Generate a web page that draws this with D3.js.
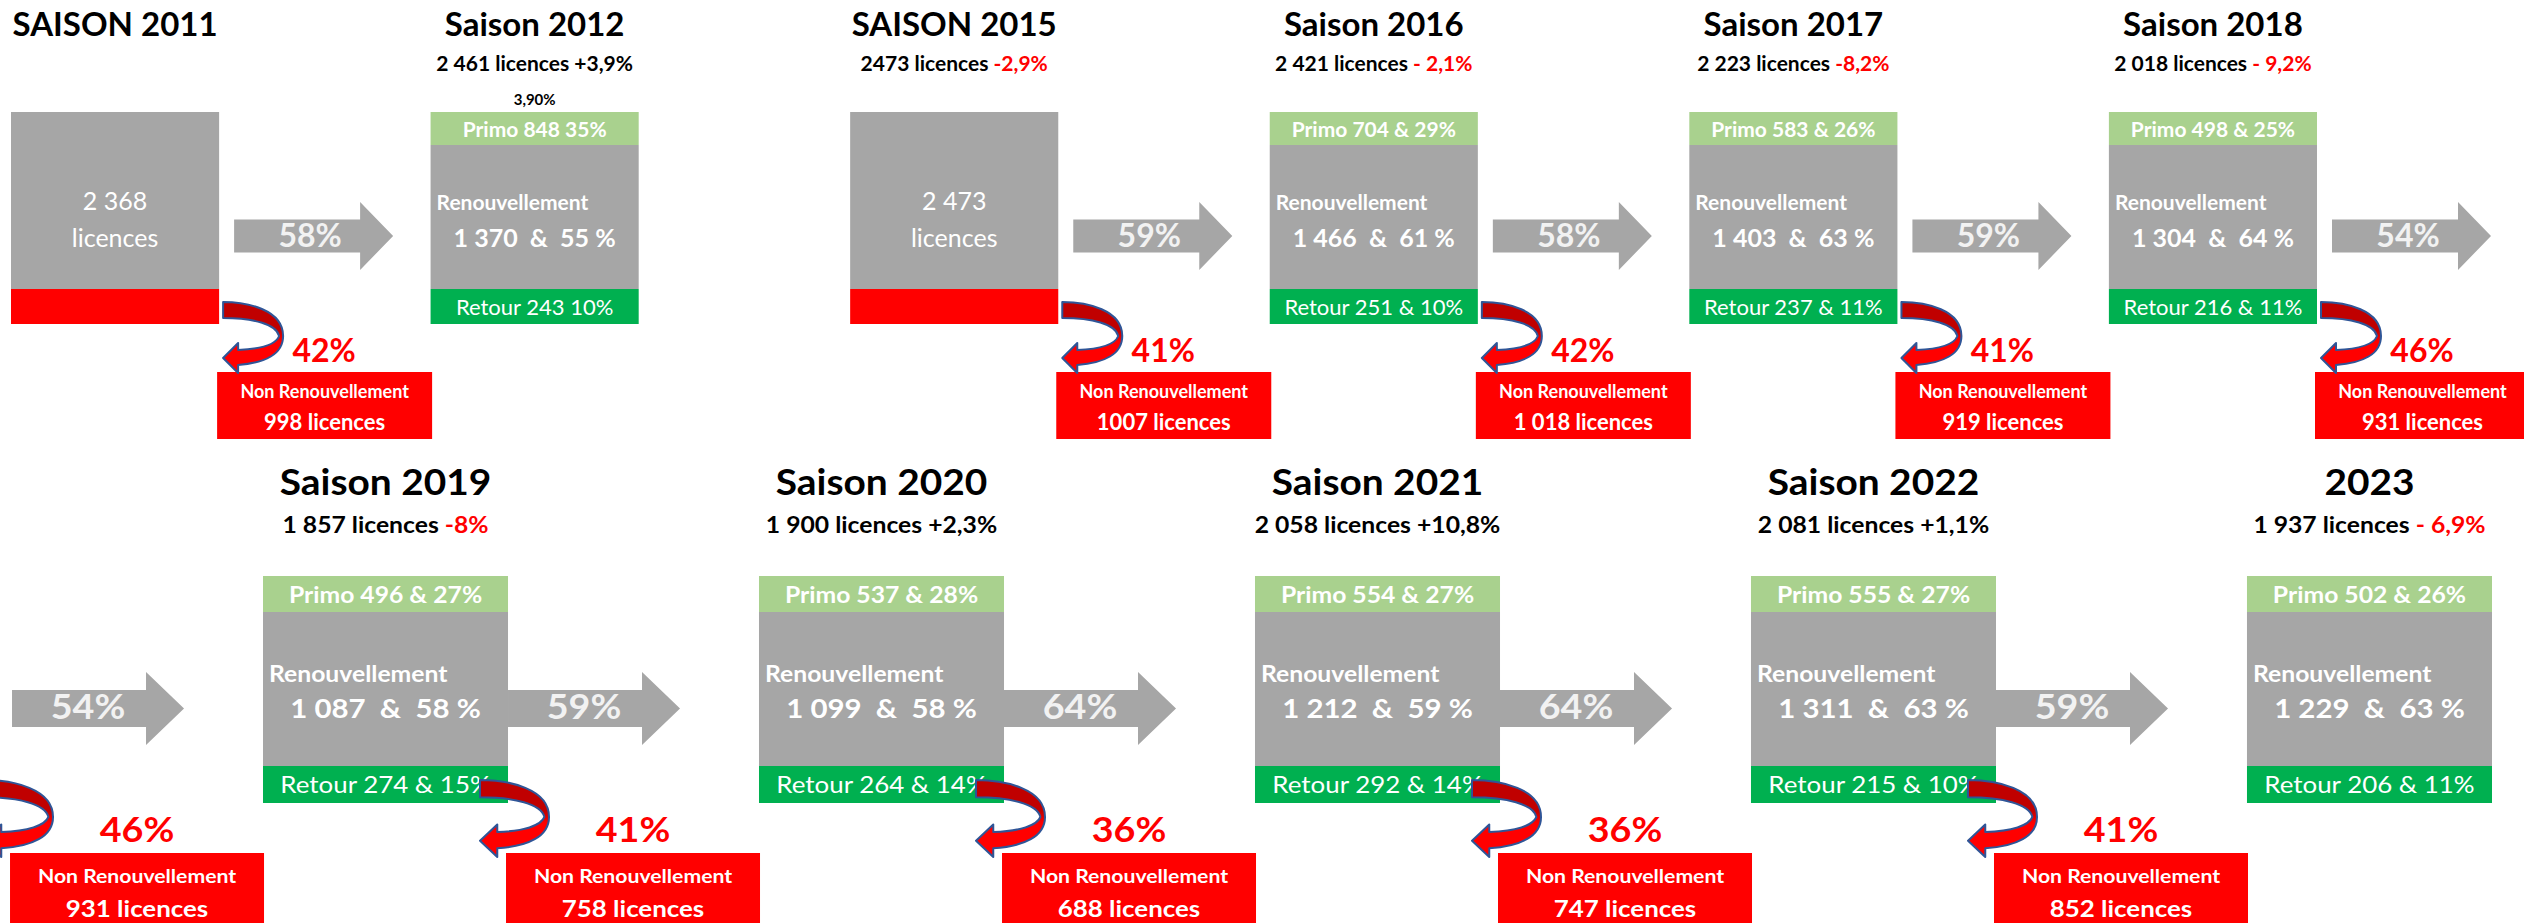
<!DOCTYPE html>
<html><head><meta charset="utf-8">
<script src="https://cdn.jsdelivr.net/npm/d3@7"></script>
<style>
html,body{margin:0;padding:0;background:#fff;overflow:hidden;}
svg text{font-family:Lato,"Open Sans",sans-serif;white-space:pre;}
</style></head><body>
<svg id="chart"></svg>
<script>
// ---------- DATA ----------
const seasons   = ["2011","2012","2015","2016","2017","2018","2019","2020","2021","2022","2023"];
const titles    = ["SAISON 2011","Saison 2012","SAISON 2015","Saison 2016","Saison 2017","Saison 2018","Saison 2019","Saison 2020","Saison 2021","Saison 2022","2023"];
const kinds     = ["total","split","total","split","split","split","split","split","split","split","split"];
const totals    = [2368,2461,2473,2421,2223,2018,1857,1900,2058,2081,1937];
const subtitleTotals = [null,"2 461","2473","2 421","2 223","2 018","1 857","1 900","2 058","2 081","1 937"];
const changeLabels   = [null,"+3,9%","-2,9%","- 2,1%","-8,2%","- 9,2%","-8%","+2,3%","+10,8%","+1,1%","- 6,9%"];
const primo     = [null,848,null,704,583,498,496,537,554,555,502];
const primoPct  = [null,35,null,29,26,25,27,28,27,27,26];
const renew     = [null,1370,null,1466,1403,1304,1087,1099,1212,1311,1229];
const renewPct  = [null,55,null,61,63,64,58,58,59,63,63];
const retour    = [null,243,null,251,237,216,274,264,292,215,206];
const retourPct = [null,10,null,10,11,11,15,14,14,10,11];
const useAmp    = [null,false,null,true,true,true,true,true,true,true,true];
// flows leaving a season (renewal arrow + non-renewal)
const flowFrom  = ["2011","2015","2016","2017","2018","2018b","2019","2020","2021","2022"];
const keepPct   = [58,59,58,59,54,54,59,64,64,59];
const lossPct   = [42,41,42,41,46,46,41,36,36,41];
const lossCount = ["998","1007","1 018","919","931","931","758","688","747","852"];
const note2012  = "3,90%";

// ---------- SETUP ----------
const W = 2524, H = 923;
const svg = d3.select("#chart").attr("width", W).attr("height", H);
const fmt = d3.formatLocale({decimal:",", thousands:" ", grouping:[3], currency:["","€"]}).format(",");
const C = {gray:"#a6a6a6", light:"#a9d18e", green:"#00b050", red:"#ff0000", arrowTxt:"#f2f2f2", blue:"#2f5597"};

const defs = svg.append("defs");
const grad = defs.append("linearGradient").attr("id","cg").attr("x1",0).attr("y1",0).attr("x2",0).attr("y2",1);
[[0,"#c00000"],[0.40,"#c00000"],[0.56,"#ff0000"],[1,"#ff0000"]].forEach(([o,c]) =>
  grad.append("stop").attr("offset",o).attr("stop-color",c));

const row1 = seasons.slice(0,6);
const row2 = ["2018b", ...seasons.slice(6)];
const x1 = d3.scaleBand().domain(row1).range([11,2317]).paddingInner(0.504).paddingOuter(0);
const x2 = d3.scaleBand().domain(row2).range([-233,2492]).paddingInner(0.506).paddingOuter(0);

const rows = [
  {x:x1, top:112, pH:33, gH:144, rH:35, titleY:36, subY:71, fs:1, sx:1, renDX:6,
   tY:{primo:25, ren:98, num:135, ret:203},
   arrow:{gap:15, body:126, tip:159, cy:236, bh:33, hh:68, tx:76, ty:11},
   curve:{dx:4, y:302, sx:1, sy:1},
   loss:{pctDX:105, pctY:362, boxDX:-2, boxW:215, boxY:372, boxH:67, l1:398, l2:430}},
  {x:x2, top:576, pH:36, gH:154, rH:37, titleY:495, subY:533, fs:1.07, sx:1.1, renDX:6,
   tY:{primo:27, ren:106, num:142, ret:217},
   arrow:{gap:0, body:134, tip:172, cy:708.5, bh:37, hh:73, tx:76, ty:10.5},
   curve:{dx:-28, y:780, sx:1.15, sy:1.085},
   loss:{pctDX:125, pctY:842, boxDX:-2, boxW:254, boxY:853, boxH:90, l1:883, l2:917}}
];
const rowOf = s => row1.includes(s) ? rows[0] : rows[1];

function txt(g, x, y, s, o) {
  const R = o.row || rows[0];
  const t = g.append("text")
    .attr("transform", `translate(${x},${y}) scale(${R.sx},1)`)
    .attr("text-anchor", o.anchor || "middle")
    .attr("font-size", o.size * R.fs)
    .attr("font-weight", o.weight || 700)
    .attr("fill", o.fill || "#000");
  if (s !== null) t.text(s);
  return t;
}

const gBlocks = svg.append("g"), gArrows = svg.append("g"), gBoxes = svg.append("g"),
      gText = svg.append("g"), gCurves = svg.append("g");

// ---------- SEASON BLOCKS ----------
seasons.forEach((s, i) => {
  const R = rowOf(s), x = R.x(s), bw = R.x.bandwidth(), cx = x + bw/2;
  const top = R.top, hTot = R.pH + R.gH + R.rH;
  // titles
  txt(gText, cx, R.titleY, titles[i], {size:33, row:R});
  if (subtitleTotals[i]) {
    const t = txt(gText, cx, R.subY, null, {size:21, row:R});
    t.append("tspan").text(subtitleTotals[i] + " licences ");
    const neg = changeLabels[i].startsWith("-");
    t.append("tspan").attr("fill", neg ? C.red : "#000").text(changeLabels[i]);
  }
  if (s === "2012") txt(gText, cx, 105, note2012, {size:15, row:R});

  if (kinds[i] === "total") {
    gBlocks.append("rect").attr("x",x).attr("y",top).attr("width",bw).attr("height",R.pH+R.gH).attr("fill",C.gray);
    gBlocks.append("rect").attr("x",x).attr("y",top+R.pH+R.gH).attr("width",bw).attr("height",R.rH).attr("fill",C.red);
    txt(gText, cx, top+R.tY.ren, fmt(totals[i]), {size:25, weight:400, fill:"#fff", row:R});
    txt(gText, cx, top+R.tY.num, "licences", {size:25, weight:400, fill:"#fff", row:R});
  } else {
    gBlocks.append("rect").attr("x",x).attr("y",top).attr("width",bw).attr("height",R.pH).attr("fill",C.light);
    gBlocks.append("rect").attr("x",x).attr("y",top+R.pH).attr("width",bw).attr("height",R.gH).attr("fill",C.gray);
    gBlocks.append("rect").attr("x",x).attr("y",top+R.pH+R.gH).attr("width",bw).attr("height",R.rH).attr("fill",C.green);
    const amp = useAmp[i] ? " & " : " ";
    txt(gText, cx, top+R.tY.primo, `Primo ${primo[i]}${amp}${primoPct[i]}%`, {size:21, fill:"#fff", row:R});
    txt(gText, x+R.renDX, top+R.tY.ren, "Renouvellement", {size:21, fill:"#fff", anchor:"start", row:R});
    txt(gText, cx, top+R.tY.num, `${fmt(renew[i])}  &  ${renewPct[i]} %`, {size:25, fill:"#fff", row:R});
    txt(gText, cx, top+R.tY.ret, `Retour ${retour[i]}${amp}${retourPct[i]}%`, {size:22, weight:400, fill:"#fff", row:R});
  }
});

// ---------- FLOWS ----------
const arrowLine = d3.line();
const curvePath = "M0,0 C25,0 60,8 60,34 C60,52 42,61 15,63 L15,71 L0,56 L15,41 L15,48 C38,47 53,42 56,34 C53,22 30,16 0,16 Z";

flowFrom.forEach((s, k) => {
  const R = rowOf(s), right = R.x(s) + R.x.bandwidth();
  const A = R.arrow, x0 = right + A.gap;
  const pts = [[x0, A.cy - A.bh/2],[x0 + A.body, A.cy - A.bh/2],[x0 + A.body, A.cy - A.hh/2],[x0 + A.tip, A.cy],
               [x0 + A.body, A.cy + A.hh/2],[x0 + A.body, A.cy + A.bh/2],[x0, A.cy + A.bh/2]];
  gArrows.append("path").attr("d", arrowLine(pts) + "Z").attr("fill", C.gray);
  txt(gArrows, x0 + A.tx, A.cy + A.ty, keepPct[k] + "%", {size:32, fill:C.arrowTxt, row:R});

  const L = R.loss;
  gBoxes.append("rect").attr("x", right + L.boxDX).attr("y", L.boxY).attr("width", L.boxW).attr("height", L.boxH).attr("fill", C.red);
  const bcx = right + L.boxDX + L.boxW/2;
  txt(gBoxes, bcx, L.l1, "Non Renouvellement", {size:18, fill:"#fff", row:R});
  txt(gBoxes, bcx, L.l2, lossCount[k] + " licences", {size:22, fill:"#fff", row:R});
  txt(gBoxes, right + L.pctDX, L.pctY, lossPct[k] + "%", {size:32, fill:C.red, row:R});

  const Cv = R.curve;
  gCurves.append("path").attr("d", curvePath)
    .attr("transform", `translate(${right + Cv.dx},${Cv.y}) scale(${Cv.sx},${Cv.sy})`)
    .attr("fill", "url(#cg)").attr("stroke", C.blue).attr("stroke-width", 2)
    .attr("vector-effect", "non-scaling-stroke").attr("stroke-linejoin","round");
});
</script>
</body></html>
